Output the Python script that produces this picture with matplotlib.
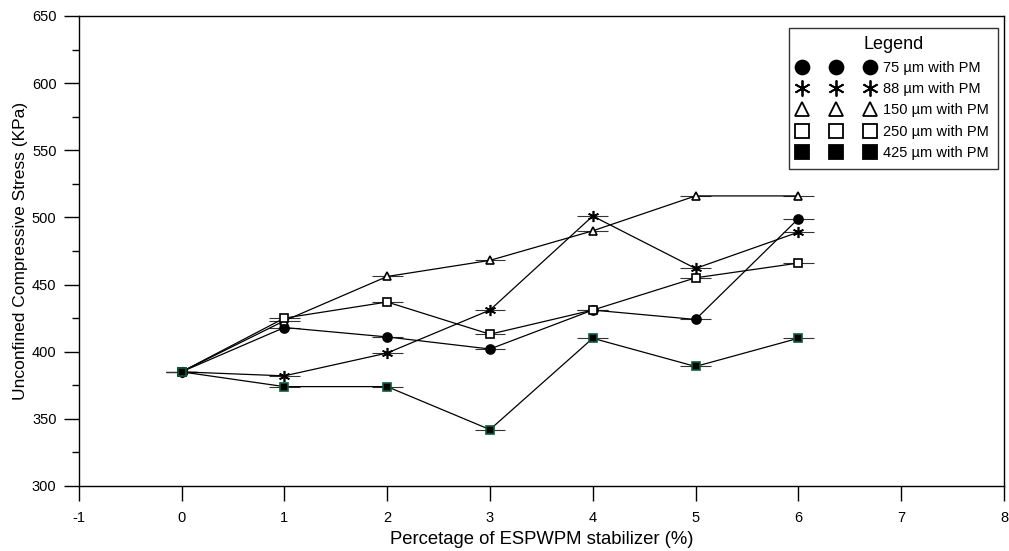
import matplotlib
matplotlib.use('Agg')
import matplotlib.pyplot as plt
from matplotlib.ticker import MultipleLocator

plt.rcParams['font.family'] = ['Liberation Sans', 'DejaVu Sans']
plt.rcParams['axes.unicode_minus'] = False

# ESPWPM stabilizer content (%)
stabilizer = [0, 1, 2, 3, 4, 5, 6]

# unconfined compressive stress (kPa)
ucs_75 = [385, 418, 411, 402, 431, 424, 499]
ucs_88 = [385, 382, 399, 431, 501, 462, 489]
ucs_150 = [385, 423, 456, 468, 490, 516, 516]
ucs_250 = [385, 425, 437, 413, 431, 455, 466]
ucs_425 = [385, 374, 374, 342, 410, 389, 410]

labels = ['75 µm with PM', '88 µm with PM', '150 µm with PM',
          '250 µm with PM', '425 µm with PM']

fig = plt.figure(figsize=(10.09, 5.51), dpi=100)
ax = fig.add_axes([0.078, 0.118, 0.917, 0.853])

styles = [
    (ucs_75, 'o', 'black', 'black', 6.5),
    (ucs_88, (6, 2, 0), 'black', 'black', 8),
    (ucs_150, '^', 'white', 'black', 6),
    (ucs_250, 's', 'white', 'black', 6),
    (ucs_425, 's', 'black', '#0d5c3c', 6),
]

handles = []
for (vals, mk, fc, ec, ms), lab in zip(styles, labels):
    # short horizontal bars through every point, like the original
    ax.errorbar(stabilizer, vals, xerr=0.15, fmt='none', ecolor='#333333',
                elinewidth=0.8, capsize=0, zorder=2)
    ax.plot(stabilizer, vals, color='black', lw=0.9, marker=mk,
            markerfacecolor=fc, markeredgecolor=ec, markersize=ms,
            markeredgewidth=1.2, zorder=3)
    h, = ax.plot([], [], linestyle='none', marker=mk, markerfacecolor=fc,
                 markeredgecolor='black', markersize=ms + 3.5, markeredgewidth=1.3)
    handles.append(h)

ax.set_xlim(-1, 8)
ax.set_ylim(300, 650)
ax.xaxis.set_major_locator(MultipleLocator(1))
ax.yaxis.set_major_locator(MultipleLocator(50))
ax.yaxis.set_minor_locator(MultipleLocator(25))
ax.tick_params(axis='both', which='major', direction='out', length=11, width=1,
               labelsize=10.5, pad=5)
ax.tick_params(axis='x', which='major', pad=7)
ax.tick_params(axis='y', which='minor', direction='out', length=5, width=1)
for sp in ax.spines.values():
    sp.set_linewidth(1)

ax.set_xlabel('Percetage of ESPWPM stabilizer (%)', fontsize=13.3, labelpad=4)
ax.set_ylabel('Unconfined Compressive Stress (KPa)', fontsize=12.5, labelpad=3)

leg = ax.legend(handles, labels, title='Legend', numpoints=3, loc='upper right',
                bbox_to_anchor=(0.9935, 0.975), fontsize=10.5, title_fontsize=13,
                frameon=True, fancybox=False, edgecolor='black', handlelength=5.3,
                handletextpad=0.6, labelspacing=0.5, borderpad=0.6,
                borderaxespad=0)
leg.get_frame().set_linewidth(1)

fig.savefig('out.png', dpi=100)
